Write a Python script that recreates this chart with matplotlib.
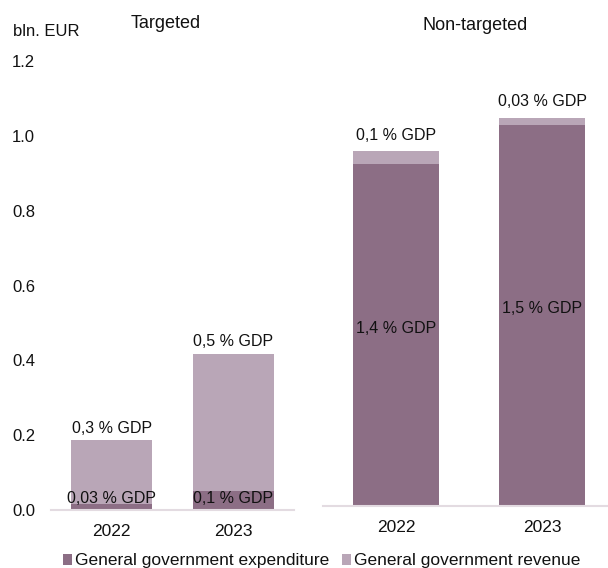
import matplotlib.pyplot as plt
import numpy as np

plt.rcParams['font.family'] = ['Liberation Sans', 'DejaVu Sans']

years = ['2022', '2023']

# bln. EUR
targeted_exp = [0.017, 0.050]
targeted_rev = [0.169, 0.368]
nontargeted_exp = [0.916, 1.019]
nontargeted_rev = [0.033, 0.020]

targeted_exp_lbl = ['0,03 % GDP', '0,1 % GDP']
targeted_rev_lbl = ['0,3 % GDP', '0,5 % GDP']
nontargeted_exp_lbl = ['1,4 % GDP', '1,5 % GDP']
nontargeted_rev_lbl = ['0,1 % GDP', '0,03 % GDP']

yticks = [0.0, 0.2, 0.4, 0.6, 0.8, 1.0, 1.2]

c_exp = '#8c6e85'
c_rev = '#b9a6b7'
c_axis = '#e3dbe1'
c_text = '#111111'

W, H = 608, 568
fig = plt.figure(figsize=(W / 100, H / 100), dpi=100)


def px_box(x0, x1, y_bottom, y_top):
    return [x0 / W, 1 - y_bottom / H, (x1 - x0) / W, (y_bottom - y_top) / H]


def draw_panel(ax, exp, rev, exp_lbl, rev_lbl, width, top_offset):
    x = np.arange(len(years))
    ax.bar(x, exp, width, color=c_exp, label='General government expenditure')
    ax.bar(x, rev, width, bottom=exp, color=c_rev, label='General government revenue')
    totals = np.array(exp) + np.array(rev)
    for xi, e, t, le, lr in zip(x, exp, totals, exp_lbl, rev_lbl):
        ax.annotate(lr, (xi, t), xytext=(0, top_offset), textcoords='offset points',
                    ha='center', va='center', fontsize=11.5, color=c_text)
        ax.text(xi, max(e * 0.52, 0.03), le, ha='center', va='center',
                fontsize=11.5, color=c_text)
    ax.set_xticks(x)
    ax.set_xticklabels(years, fontsize=12.5, color=c_text)
    ax.set_ylim(0, 1.2)
    for s in ['top', 'right', 'left']:
        ax.spines[s].set_visible(False)
    ax.spines['bottom'].set_color(c_axis)
    ax.spines['bottom'].set_linewidth(1.5)
    ax.tick_params(axis='x', length=0, pad=10)


ax1 = fig.add_axes(px_box(51, 294, 510, 61))
draw_panel(ax1, targeted_exp, targeted_rev, targeted_exp_lbl, targeted_rev_lbl, 0.67, 8.5)
ax1.set_xlim(-0.5, 1.5)
ax1.set_yticks(yticks)
ax1.set_yticklabels([f'{v:.1f}' for v in yticks], fontsize=12, color=c_text)
ax1.tick_params(axis='y', length=0, pad=11.5)

ax2 = fig.add_axes(px_box(323, 608, 506.3, 57.3))
draw_panel(ax2, nontargeted_exp, nontargeted_rev, nontargeted_exp_lbl, nontargeted_rev_lbl, 0.59, 11.5)
ax2.set_xlim(-0.5, 1.45)
ax2.set_yticks([])

fig.text(13 / W, 1 - 32 / H, 'bln. EUR', fontsize=12, color=c_text, va='center', ha='left')
fig.text(165.5 / W, 1 - 24 / H, 'Targeted', fontsize=13, color=c_text, va='center', ha='center')
fig.text(475 / W, 1 - 25 / H, 'Non-targeted', fontsize=13, color=c_text, va='center', ha='center')

handles, labels = ax1.get_legend_handles_labels()
fig.legend(handles, labels, loc='center', bbox_to_anchor=(321.5 / W, 1 - 561 / H),
           ncol=2, frameon=False, fontsize=12.5, handlelength=0.55, handleheight=0.55,
           handletextpad=0.15, columnspacing=0.75, labelcolor=c_text,
           borderpad=0, borderaxespad=0)

fig.savefig('out.png', dpi=100)
